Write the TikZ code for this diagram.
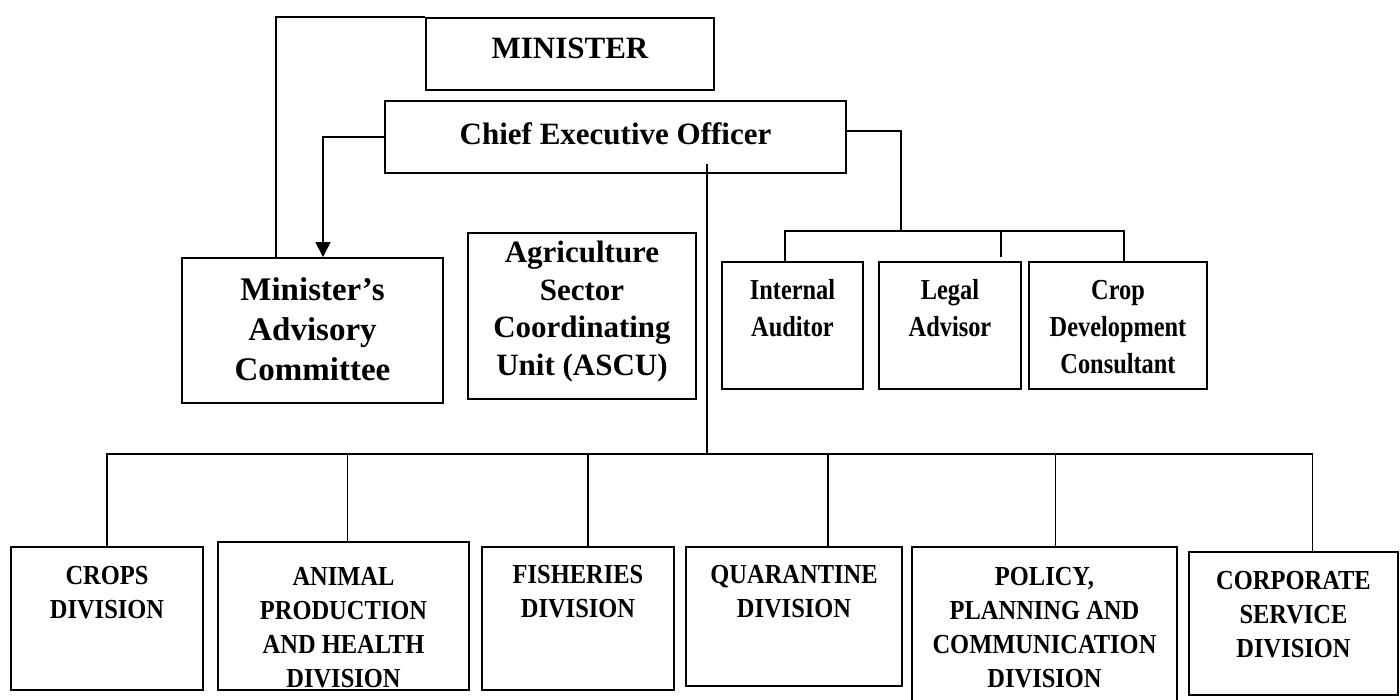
\documentclass[tikz,border=0pt]{standalone}
\usepackage{fontspec}
\setmainfont{Liberation Serif}
\newfontfamily\narrowserif[FakeStretch=0.84]{Liberation Serif}
\newfontfamily\divserif[FakeStretch=0.89]{Liberation Serif}
\usetikzlibrary{arrows.meta, positioning}

\begin{document}
\begin{tikzpicture}[x=1pt, y=-1pt,
    unit/.style 2 args={draw, line width=1.9pt, inner sep=0pt,
                        minimum width=#1, minimum height=#2},
    head/.style={font=\bfseries\fontsize{31}{36}\selectfont, inner sep=0pt},
    wide/.style={font=\bfseries\fontsize{33}{40}\selectfont, align=center, inner sep=0pt},
    slim/.style={font=\narrowserif\bfseries\fontsize{29}{37}\selectfont, align=center, inner sep=0pt},
    divtxt/.style={font=\divserif\bfseries\fontsize{27.5}{34}\selectfont, align=center, inner sep=0pt},
    link/.style={line width=1.5pt},
]
    \useasboundingbox (0,0) rectangle (1400,700);

    % Top
    \node[unit={288pt}{72pt}] (minister) at (570,54) {};
    \node[unit={461pt}{72pt}] (ceo) at (615.5,137) {};
    \node[head, below=21pt of minister.north] (ministertext) {MINISTER};
    \node[head, below=22pt of ceo.north] (ceotext) {Chief Executive Officer};

    % Second row
    \node[unit={261pt}{145pt}] (mac) at (312.5,330.5) {};
    \node[unit={228pt}{166pt}] (ascu) at (582,316) {};
    \node[unit={141pt}{127pt}] (audit) at (792.5,325.5) {};
    \node[unit={142pt}{127pt}] (legal) at (950,325.5) {};
    \node[unit={178pt}{127pt}] (cropdev) at (1118,325.5) {};

    \node[wide, below=20pt of mac.north] (mactext) {Minister’s\\Advisory\\Committee};
    \node[wide, font=\bfseries\fontsize{31}{37.5}\selectfont, below=9pt of ascu.north] (ascutext)
        {Agriculture\\Sector\\Coordinating\\Unit (ASCU)};
    \node[slim, below=18pt of audit.north] (audittext) {Internal\\Auditor};
    \node[slim, below=18pt of legal.north] (legaltext) {Legal\\Advisor};
    \node[slim, below=19pt of cropdev.north] (cropdevtext) {Crop\\Development\\Consultant};

    % Divisions
    \node[unit={192pt}{143pt}] (crops) at (107,618.5) {};
    \node[unit={251pt}{148pt}] (animal) at (343.5,616) {};
    \node[unit={192pt}{143pt}] (fish) at (578,618.5) {};
    \node[unit={216pt}{139pt}] (quar) at (794,616.5) {};
    \node[unit={265pt}{165pt}] (policy) at (1044.5,629.5) {};
    \node[unit={209pt}{143pt}] (corp) at (1293.5,623.5) {};

    \node[divtxt, below=20pt of crops.north] (cropstext) {CROPS\\DIVISION};
    \node[divtxt, below=26pt of animal.north] (animaltext) {ANIMAL\\PRODUCTION\\AND HEALTH\\DIVISION};
    \node[divtxt, below=19pt of fish.north] (fishtext) {FISHERIES\\DIVISION};
    \node[divtxt, below=19pt of quar.north] (quartext) {QUARANTINE\\DIVISION};
    \node[divtxt, below=21pt of policy.north] (policytext) {POLICY,\\PLANNING AND\\COMMUNICATION\\DIVISION};
    \node[divtxt, below=20pt of corp.north] (corptext) {CORPORATE\\SERVICE\\DIVISION};

    % Connectors
    \coordinate (staffbus) at (901,231);
    \coordinate (divbus) at (707,454);

    \draw[link] (minister.north west) -| ([xshift=-36.5pt]mac.north);
    \draw[link, -{Triangle[length=15pt, width=15pt]}] (ceo.west) -| ([xshift=10.5pt]mac.north);

    \draw[link] ([yshift=6pt]ceo.east) -| (staffbus);
    \draw[link] ([xshift=-7.5pt]audit.north) |- ([xshift=6pt]cropdev.north |- staffbus)
        -- ([xshift=6pt]cropdev.north);
    \draw[link] ([xshift=51pt]legal.north |- staffbus) -- ([xshift=51pt, yshift=4pt]legal.north);

    \draw[link] ([xshift=91.5pt, yshift=10pt]ceo.south) -- (divbus);
    \draw[link] (crops.north) |- ([xshift=19pt]corp.north |- divbus) -- ([xshift=19pt]corp.north);
    \foreach \unitname/\dx in {animal/4, fish/10, quar/34, policy/11}
        \draw[link] ([xshift=\dx pt]\unitname.north |- divbus) -- ([xshift=\dx pt]\unitname.north);
\end{tikzpicture}
\end{document}
